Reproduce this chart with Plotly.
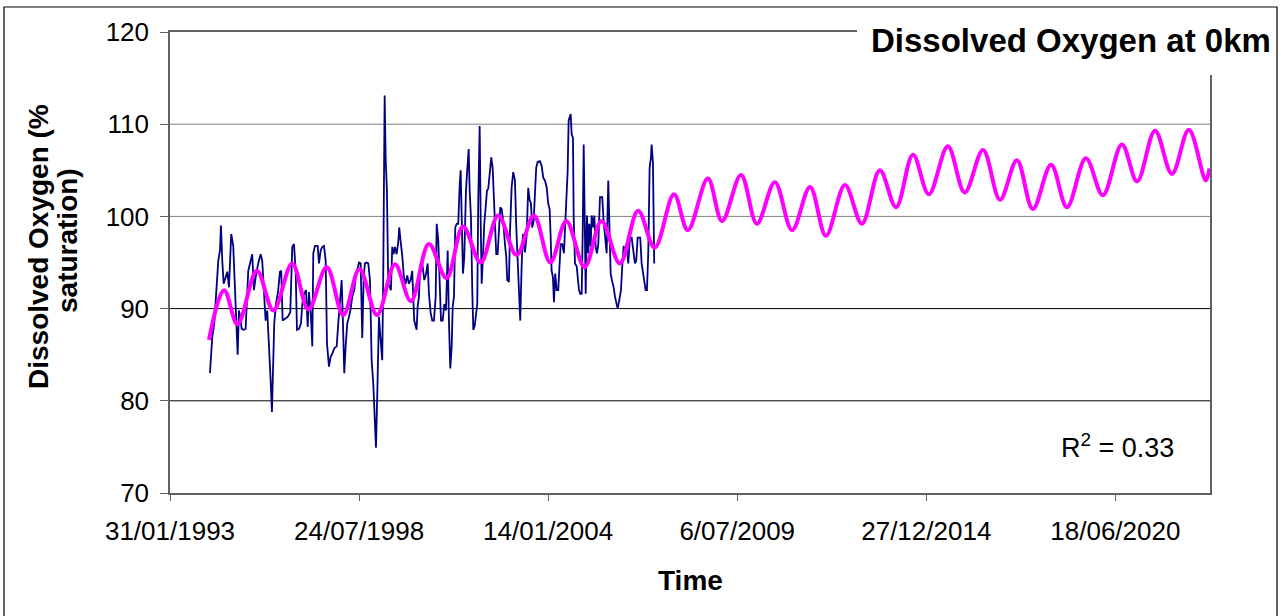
import pandas as pd
import plotly.graph_objects as go

# ---------------- data (decimal years, % saturation) ----------------
OBS_YEAR = [
    1994.240, 1994.261, 1994.307, 1994.365, 1994.434, 1994.481, 1994.530, 1994.559, 1994.597, 1994.637,
    1994.695, 1994.741, 1994.791, 1994.828, 1994.857, 1994.915, 1994.964, 1995.002, 1995.043, 1995.080,
    1995.118, 1995.158, 1995.216, 1995.274, 1995.312, 1995.350, 1995.408, 1995.465, 1995.515, 1995.564,
    1995.639, 1995.709, 1995.755, 1995.804, 1995.853, 1995.900, 1995.949, 1995.998, 1996.036, 1996.065,
    1996.103, 1996.152, 1996.218, 1996.268, 1996.305, 1996.346, 1996.412, 1996.491, 1996.566, 1996.624,
    1996.673, 1996.722, 1996.760, 1996.818, 1996.876, 1996.913, 1996.963, 1997.021, 1997.070, 1997.107,
    1997.165, 1997.203, 1997.232, 1997.281, 1997.359, 1997.397, 1997.446, 1997.493, 1997.542, 1997.591,
    1997.629, 1997.687, 1997.736, 1997.782, 1997.840, 1997.910, 1997.956, 1998.005, 1998.054, 1998.092,
    1998.130, 1998.170, 1998.217, 1998.266, 1998.315, 1998.361, 1998.419, 1998.460, 1998.506, 1998.555,
    1998.605, 1998.651, 1998.692, 1998.729, 1998.778, 1998.825, 1998.874, 1998.923, 1998.970, 1999.019,
    1999.048, 1999.085, 1999.135, 1999.184, 1999.230, 1999.259, 1999.279, 1999.300, 1999.329, 1999.366,
    1999.404, 1999.445, 1999.482, 1999.520, 1999.560, 1999.598, 1999.647, 1999.694, 1999.723, 1999.763,
    1999.809, 1999.859, 1999.908, 1999.954, 2000.003, 2000.053, 2000.099, 2000.128, 2000.157, 2000.226,
    2000.255, 2000.293, 2000.331, 2000.389, 2000.447, 2000.496, 2000.545, 2000.583, 2000.632, 2000.678,
    2000.727, 2000.777, 2000.806, 2000.852, 2000.893, 2000.930, 2000.979, 2001.026, 2001.075, 2001.124,
    2001.162, 2001.200, 2001.240, 2001.269, 2001.307, 2001.344, 2001.385, 2001.431, 2001.472, 2001.501,
    2001.530, 2001.567, 2001.605, 2001.654, 2001.692, 2001.732, 2001.761, 2001.799, 2001.837, 2001.866,
    2001.906, 2001.944, 2001.981, 2002.010, 2002.051, 2002.080, 2002.109, 2002.147, 2002.184, 2002.225,
    2002.262, 2002.300, 2002.341, 2002.387, 2002.427, 2002.456, 2002.494, 2002.532, 2002.572, 2002.610,
    2002.648, 2002.688, 2002.734, 2002.784, 2002.821, 2002.850, 2002.899, 2002.928, 2002.978, 2003.024,
    2003.073, 2003.111, 2003.151, 2003.189, 2003.227, 2003.267, 2003.305, 2003.363, 2003.412, 2003.458,
    2003.499, 2003.537, 2003.574, 2003.615, 2003.652, 2003.690, 2003.731, 2003.797, 2003.846, 2003.893,
    2003.942, 2003.991, 2004.038, 2004.078, 2004.107, 2004.136, 2004.174, 2004.203, 2004.240, 2004.281,
    2004.327, 2004.356, 2004.397, 2004.443, 2004.492, 2004.530, 2004.570, 2004.599, 2004.628, 2004.657,
    2004.686, 2004.715, 2004.753, 2004.773, 2004.811, 2004.860, 2004.889, 2004.927, 2004.964, 2005.005,
    2005.034, 2005.063, 2005.092, 2005.121, 2005.158, 2005.196, 2005.225, 2005.266, 2005.294, 2005.341,
    2005.370, 2005.410, 2005.448, 2005.486, 2005.535, 2005.601, 2005.642, 2005.680, 2005.729, 2005.775,
    2005.804, 2005.845, 2005.891, 2005.932, 2005.969, 2006.007, 2006.047, 2006.094, 2006.143, 2006.181,
    2006.221, 2006.259, 2006.308, 2006.354, 2006.404, 2006.453, 2006.499, 2006.548, 2006.586, 2006.627,
    2006.664, 2006.702, 2006.742, 2006.780, 2006.818, 2006.858, 2006.896, 2006.934, 2006.974, 2007.012,
    2007.032, 2007.070, 2007.107,
]
OBS_DO = [
    83.0, 84.8, 86.9, 88.4, 92.0, 95.2, 96.3, 99.0, 95.2, 92.7,
    93.4, 94.0, 92.3, 96.7, 98.1, 96.8, 92.0, 88.4, 85.0, 89.8,
    89.1, 87.8, 87.7, 87.8, 91.3, 94.1, 95.0, 95.9, 92.0, 93.4,
    94.9, 95.9, 95.2, 92.3, 88.7, 89.8, 86.6, 82.3, 78.8, 84.1,
    88.4, 90.5, 92.0, 94.0, 94.1, 88.7, 88.9, 89.1, 89.6, 96.7,
    97.0, 94.1, 87.7, 87.8, 88.4, 90.5, 91.6, 92.0, 88.0, 91.8,
    89.1, 85.9, 96.0, 96.8, 96.8, 94.9, 96.3, 96.7, 96.8, 95.2,
    86.2, 83.7, 84.8, 85.1, 85.7, 85.9, 88.4, 90.5, 93.1, 88.4,
    83.0, 85.9, 88.4, 89.1, 90.0, 91.3, 92.0, 93.4, 94.1, 95.0,
    94.9, 86.8, 93.4, 94.9, 95.0, 94.9, 93.1, 84.4, 81.9, 77.9,
    74.9, 80.5, 89.1, 86.6, 84.4, 93.4, 106.4, 113.1, 106.4, 102.8,
    92.7, 92.3, 92.0, 96.7, 95.9, 96.7, 95.9, 97.2, 98.8, 97.3,
    95.8, 93.4, 92.7, 93.6, 92.7, 93.1, 94.1, 91.3, 88.7, 87.7,
    90.2, 91.3, 94.7, 94.9, 93.1, 93.7, 94.9, 91.6, 89.5, 88.7,
    88.7, 91.3, 99.2, 97.4, 92.0, 88.7, 88.7, 90.5, 89.8, 96.3,
    88.4, 83.5, 85.9, 90.2, 91.3, 98.8, 99.2, 99.2, 103.5, 105.0,
    99.9, 93.8, 95.6, 102.8, 105.1, 107.3, 102.8, 99.9, 92.0, 87.7,
    88.1, 89.1, 90.5, 101.7, 109.8, 99.8, 92.7, 95.6, 99.2, 101.0,
    102.8, 103.0, 105.0, 106.4, 105.3, 102.8, 98.5, 95.9, 95.9, 99.2,
    101.0, 100.8, 99.5, 97.0, 95.6, 93.1, 92.9, 98.1, 103.2, 104.8,
    103.9, 98.9, 95.5, 93.1, 88.7, 94.6, 98.1, 96.1, 97.9, 103.1,
    101.8, 101.4, 98.8, 99.5, 102.4, 105.3, 105.9, 106.0, 105.5, 104.2,
    103.9, 103.2, 101.4, 100.8, 97.9, 94.1, 93.4, 90.7, 93.8, 92.0,
    92.0, 94.9, 97.0, 97.0, 96.0, 99.2, 103.5, 104.9, 110.4, 110.8,
    111.1, 108.9, 108.5, 100.1, 94.9, 94.6, 93.4, 92.0, 91.6, 91.6,
    98.1, 107.8, 99.9, 91.6, 100.1, 96.0, 99.2, 96.7, 100.1, 98.8,
    100.1, 96.7, 96.0, 97.0, 102.1, 102.1, 99.4, 97.7, 96.0, 103.9,
    99.2, 93.8, 92.9, 92.3, 91.3, 90.5, 90.0, 90.9, 92.0, 94.6,
    96.8, 96.3, 97.0, 94.9, 97.7, 97.7, 96.3, 94.9, 95.2, 97.7,
    97.7, 97.7, 94.9, 94.0, 93.1, 92.0, 92.0, 96.0, 105.3, 106.4,
    107.8, 105.8, 94.9,
]

MODEL_YEAR = [
    1994.21, 1994.65, 1995.04, 1995.60, 1996.08, 1996.62, 1997.09, 1997.62, 1998.10, 1998.57,
    1999.08, 1999.60, 2000.06, 2000.58, 2001.09, 2001.57, 2002.08, 2002.59, 2003.12, 2003.62,
    2004.10, 2004.56, 2005.09, 2005.58, 2006.11, 2006.64, 2007.12, 2007.68, 2008.08, 2008.66,
    2009.07, 2009.62, 2010.08, 2010.60, 2011.10, 2011.62, 2012.08, 2012.63, 2013.12, 2013.64,
    2014.11, 2014.60, 2015.06, 2015.61, 2016.10, 2016.63, 2017.12, 2017.61, 2018.07, 2018.60,
    2019.06, 2019.61, 2020.10, 2020.65, 2021.09, 2021.61, 2022.10, 2022.59, 2023.08, 2023.19,
]
MODEL_DO = [
    86.6, 92.0, 88.3, 94.1, 89.8, 94.9, 89.9, 94.5, 89.3, 94.3,
    89.3, 94.8, 90.8, 97.0, 93.3, 98.9, 95.0, 100.1, 95.8, 100.1,
    95.0, 99.5, 94.5, 99.5, 94.9, 100.6, 96.6, 102.4, 98.5, 104.1,
    99.5, 104.5, 99.2, 103.7, 98.5, 103.2, 97.9, 103.4, 99.2, 105.0,
    101.0, 106.7, 102.4, 107.6, 102.6, 107.2, 101.8, 106.1, 100.8, 105.6,
    101.0, 106.3, 102.3, 107.8, 103.8, 109.3, 104.6, 109.4, 103.9, 105.2,
]

X_START, X_END = "1993-01-31", "2023-03-16"
TICK_DATES = ["1993-01-31", "1998-07-24", "2004-01-14", "2009-07-06", "2014-12-27", "2020-06-18"]
TICK_TEXT = ["31/01/1993", "24/07/1998", "14/01/2004", "6/07/2009", "27/12/2014", "18/06/2020"]
Y_TICKS = [70, 80, 90, 100, 110, 120]
GRID_STYLE = {80: "#000000", 90: "#000000", 100: "#808080", 110: "#808080"}


def yr2date(y):
    yi = int(y)
    s = pd.Timestamp(year=yi, month=1, day=1)
    e = pd.Timestamp(year=yi + 1, month=1, day=1)
    return s + (e - s) * (y - yi)


FONT = "Arial, 'Liberation Sans', sans-serif"

fig = go.Figure()
fig.add_trace(go.Scatter(
    x=[yr2date(v) for v in OBS_YEAR], y=OBS_DO, mode="lines",
    line=dict(color="#000080", width=1.8), name="Observed", hoverinfo="skip"))
fig.add_trace(go.Scatter(
    x=[yr2date(v) for v in MODEL_YEAR], y=MODEL_DO, mode="lines",
    line=dict(color="#FF00FF", width=4, shape="spline", smoothing=1.0), name="Model",
    hoverinfo="skip"))

W, H = 1281, 616
L, R, T, B = 170, 71, 32, 123
pw, ph = W - L - R, H - T - B


def px(x):
    return (x - L) / pw


def py(y):
    return (H - B - y) / ph


shapes = []
for v, c in GRID_STYLE.items():
    shapes.append(dict(type="line", xref="paper", yref="y", x0=0, x1=1, y0=v, y1=v,
                       line=dict(color=c, width=1), layer="below"))
# outer chart border
shapes.append(dict(type="rect", xref="paper", yref="paper", x0=px(4), x1=px(1277),
                   y0=py(700), y1=py(7), line=dict(color="#000000", width=1.2),
                   fillcolor="rgba(0,0,0,0)", layer="above"))
# title background box
shapes.append(dict(type="rect", xref="paper", yref="paper", x0=px(857), x1=px(1275),
                   y0=py(75), y1=py(8.5), line=dict(width=0), fillcolor="white", layer="above"))

annotations = [
    dict(text="<b>Dissolved Oxygen at 0km</b>", xref="paper", yref="paper", x=px(1273), y=py(41),
         xanchor="right", yanchor="middle", showarrow=False,
         font=dict(family=FONT, size=33, color="#000")),
    dict(text="<b>Dissolved Oxygen (%</b>", xref="paper", yref="paper",
         x=px(38), y=py(247), xanchor="center", yanchor="middle", textangle=-90, showarrow=False,
         font=dict(family=FONT, size=28, color="#000")),
    dict(text="<b>saturation)</b>", xref="paper", yref="paper",
         x=px(67), y=py(241), xanchor="center", yanchor="middle", textangle=-90, showarrow=False,
         font=dict(family=FONT, size=28, color="#000")),
    dict(text="<b>Time</b>", xref="paper", yref="paper", x=px(690), y=py(580),
         xanchor="center", yanchor="middle", showarrow=False,
         font=dict(family=FONT, size=28, color="#000")),
    dict(text="R<sup>2</sup> = 0.33", xref="paper", yref="paper", x=px(1117), y=py(446),
         xanchor="center", yanchor="middle", showarrow=False,
         font=dict(family=FONT, size=27, color="#000")),
]

fig.update_layout(
    width=W, height=H, margin=dict(l=L, r=R, t=T, b=B, pad=0),
    paper_bgcolor="white", plot_bgcolor="white", showlegend=False,
    font=dict(family=FONT, size=26, color="#000"),
    shapes=shapes, annotations=annotations,
    xaxis=dict(type="date", range=[X_START, X_END], tickmode="array",
               tickvals=TICK_DATES, ticktext=TICK_TEXT, showgrid=False, zeroline=False,
               showline=True, linecolor="#606060", linewidth=2, mirror=True,
               ticks="outside", ticklen=6, tickcolor="#606060", tickwidth=1,
               tickfont=dict(family=FONT, size=26, color="#000"), ticklabelstandoff=8),
    yaxis=dict(range=[70, 120], tickmode="array", tickvals=Y_TICKS, showgrid=False,
               zeroline=False, showline=True, linecolor="#606060", linewidth=1.5, mirror=True,
               ticks="outside", ticklen=8, tickcolor="#606060", tickwidth=1,
               tickfont=dict(family=FONT, size=26, color="#000"), ticklabelstandoff=6),
)

fig.write_html("out.html")
